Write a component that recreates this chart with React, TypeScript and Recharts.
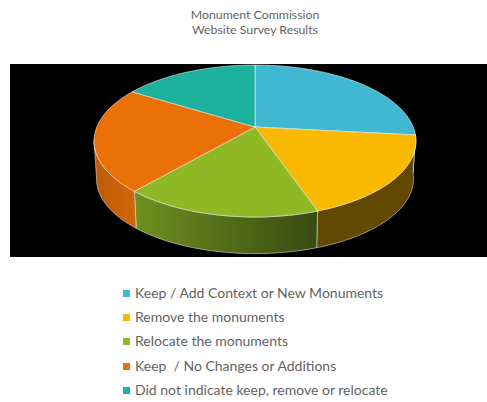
import React from "react";
import { PieChart, Pie, Legend } from "recharts";

const categories = [
  "Keep / Add Context or New Monuments",
  "Remove the monuments",
  "Relocate the monuments",
  "Keep  / No Changes or Additions",
  "Did not indicate keep, remove or relocate",
];
const values = [26.7, 18, 16.7, 22.4, 16.2];
const topColors = ["#41b8d2", "#f8b900", "#8fb824", "#eb7007", "#1bb19d"];
const wallColors = ["#1d5866", "#624800", "url(#greenWall)", "url(#orangeWall)", "#0d5a4f"];
const titleLines = ["Monument Commission", "Website Survey Results"];

const topRows = categories.map((name, i) => ({ name, value: values[i], fill: topColors[i] }));
const wallRows = categories.map((name, i) => ({ name, value: values[i], fill: wallColors[i] }));

const FONT = "Lato, sans-serif";
const PERSPECTIVE = 0.1842;
const FLATTEN = 0.464;
const DEPTH = 38;
const BASE_SCALE = 0.985;
const VISIBLE_FROM = 96;
const VISIBLE_TO = 260;

// Offset of a rim point from the pie centre, for a clockwise angle from 12 o'clock.
const project = (deg: number, r: number) => {
  const t = (deg * Math.PI) / 180;
  const d = Math.cos(t);
  const s = 1 / (1 + PERSPECTIVE * d);
  return { x: r * Math.sin(t) * s, y: -r * FLATTEN * d * s };
};

const sweep = (from: number, to: number) => {
  const out: number[] = [];
  for (let a = from; a < to; a += 1) out.push(a);
  out.push(to);
  return out;
};

const TopFace = (p: any) => {
  const from = 90 - p.startAngle;
  const to = 90 - p.endAngle;
  const pts = sweep(from, to).map((a) => {
    const q = project(a, p.outerRadius);
    return `${(p.cx + q.x).toFixed(2)} ${(p.cy + q.y).toFixed(2)}`;
  });
  return (
    <path
      d={`M${p.cx} ${p.cy}L${pts.join("L")}Z`}
      fill={p.fill}
      stroke="#ffffff"
      strokeOpacity={0.6}
      strokeWidth={0.9}
      strokeLinejoin="round"
    />
  );
};

const Wall = (p: any) => {
  const from = Math.max(90 - p.startAngle, VISIBLE_FROM);
  const to = Math.min(90 - p.endAngle, VISIBLE_TO);
  if (to <= from) return <g />;
  const angles = sweep(from, to);
  const upper = angles.map((a) => {
    const q = project(a, p.outerRadius);
    return `${(p.cx + q.x).toFixed(2)} ${(p.cy + q.y).toFixed(2)}`;
  });
  const lower = [...angles].reverse().map((a) => {
    const q = project(a, p.outerRadius);
    return `${(p.cx + q.x * BASE_SCALE).toFixed(2)} ${(p.cy + q.y * BASE_SCALE + DEPTH).toFixed(2)}`;
  });
  return (
    <path
      d={`M${upper.join("L")}L${lower.join("L")}Z`}
      fill={p.fill}
      stroke="#ffffff"
      strokeOpacity={0.55}
      strokeWidth={0.9}
      strokeLinejoin="round"
    />
  );
};

const LegendList = () => (
  <div style={{ fontFamily: FONT, fontSize: 14, color: "#636363" }}>
    {categories.map((name, i) => (
      <div key={name} style={{ height: 24.2, lineHeight: "24.2px", whiteSpace: "pre", position: "relative", paddingLeft: 12 }}>
        <span style={{ position: "absolute", left: 0, top: 9, width: 7, height: 7, background: topColors[i] }} />
        {name}
      </div>
    ))}
  </div>
);

export default function App() {
  return (
    <div style={{ position: "absolute", left: 0, top: 0, width: 487, height: 402, background: "#fff", overflow: "hidden" }}>
      <div style={{ position: "absolute", left: 10, top: 64, width: 477, height: 193, background: "#000" }} />
      <div
        style={{
          position: "absolute",
          left: 130,
          top: 7,
          width: 250,
          textAlign: "center",
          fontFamily: FONT,
          fontSize: 12.3,
          lineHeight: "15px",
          color: "#636363",
        }}
      >
        {titleLines.map((t) => (
          <div key={t}>{t}</div>
        ))}
      </div>
      <div style={{ position: "absolute", left: 0, top: 0 }}>
        <PieChart width={487} height={402} margin={{ top: 0, right: 0, bottom: 0, left: 0 }}>
          <defs>
            <linearGradient id="greenWall" gradientUnits="userSpaceOnUse" x1="135" y1="0" x2="317" y2="0">
              <stop offset="0" stopColor="#6f8f20" />
              <stop offset="1" stopColor="#384c11" />
            </linearGradient>
            <linearGradient id="orangeWall" gradientUnits="userSpaceOnUse" x1="95" y1="0" x2="137" y2="0">
              <stop offset="0" stopColor="#c05a08" />
              <stop offset="1" stopColor="#d2660b" />
            </linearGradient>
          </defs>
          <Pie
            data={wallRows}
            dataKey="value"
            nameKey="name"
            cx={255}
            cy={127}
            outerRadius={158.2}
            startAngle={90}
            endAngle={-270}
            legendType="none"
            shape={Wall}
            isAnimationActive={false}
          />
          <Pie
            data={topRows}
            dataKey="value"
            nameKey="name"
            cx={255}
            cy={127}
            outerRadius={158.2}
            startAngle={90}
            endAngle={-270}
            shape={TopFace}
            isAnimationActive={false}
          />
          <Legend
            content={LegendList as any}
            wrapperStyle={{ position: "absolute", left: 123, top: 281, width: 320, bottom: "auto" }}
          />
        </PieChart>
      </div>
    </div>
  );
}
